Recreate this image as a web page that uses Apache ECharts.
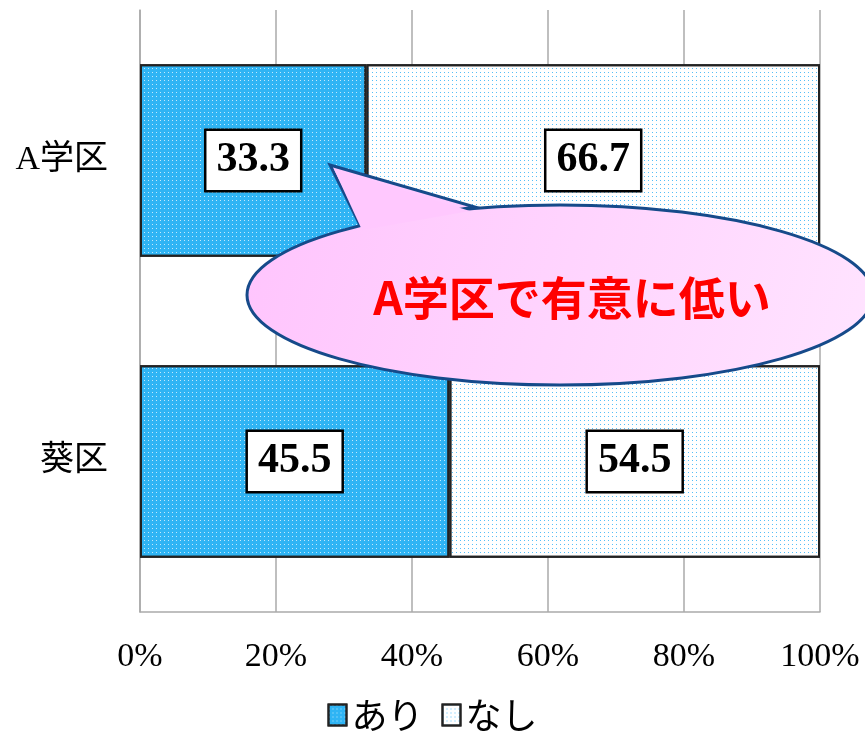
<!DOCTYPE html>
<html>
<head>
<meta charset="utf-8">
<script src="https://cdn.jsdelivr.net/npm/echarts@6/dist/echarts.min.js"></script>
<style>
  html, body { margin: 0; padding: 0; background: #fff; }
  #main { width: 865px; height: 738px; }
</style>
</head>
<body>
<div id="main"></div>
<script>
// categories top to bottom
const categories = ['A学区', '葵区'];
const ariValues = [33.3, 45.5];
const nashiValues = [66.7, 54.5];
const xTicks = ['0%', '20%', '40%', '60%', '80%', '100%'];
const calloutText = 'A学区で有意に低い';

const serif = "'Liberation Serif', 'Noto Sans CJK JP', serif";

const chart = echarts.init(document.getElementById('main'));

const boxLabel = {
  show: true,
  position: 'inside',
  formatter: p => p.value.toFixed(1),
  fontFamily: serif,
  fontSize: 42,
  fontWeight: 'bold',
  color: '#000',
  backgroundColor: '#fff',
  borderColor: '#000',
  borderWidth: 2.5,
  padding: [10, 10, 7, 10]
};

const option = {
  animation: false,
  grid: { left: 140, right: 45, top: 10, bottom: 126 },
  xAxis: {
    type: 'value',
    min: 0,
    max: 100,
    interval: 20,
    axisLine: { show: true, lineStyle: { color: '#aaa', width: 1.5 } },
    axisTick: { show: false },
    splitLine: { show: true, lineStyle: { color: '#aaa', width: 1.5 } },
    axisLabel: {
      formatter: v => xTicks[v / 20],
      fontFamily: serif,
      fontSize: 34,
      color: '#000',
      margin: 28
    }
  },
  yAxis: {
    type: 'category',
    inverse: true,
    data: categories,
    axisLine: { show: true, lineStyle: { color: '#aaa', width: 1.5 } },
    axisTick: { show: false },
    axisLabel: {
      fontFamily: serif,
      fontSize: 34,
      color: '#000',
      margin: 32
    }
  },
  legend: {
    bottom: 0,
    left: 'center',
    icon: 'rect',
    itemWidth: 18,
    itemHeight: 21,
    itemGap: 18,
    textStyle: { fontFamily: "'Noto Sans CJK JP', sans-serif", fontSize: 36, color: '#000' },
    data: ['あり', 'なし']
  },
  series: [
    {
      name: 'あり',
      type: 'bar',
      stack: 'total',
      barCategoryGap: '36%',
      data: ariValues,
      itemStyle: {
        color: '#2fb4f4',
        borderColor: '#222',
        borderWidth: 2,
        decal: {
          symbol: 'rect',
          color: 'rgba(255,255,255,0.7)',
          dashArrayX: [1, 3],
          dashArrayY: [1, 3],
          symbolSize: 1,
          rotation: 0
        }
      },
      label: boxLabel
    },
    {
      name: 'なし',
      type: 'bar',
      stack: 'total',
      data: nashiValues,
      itemStyle: {
        color: '#ffffff',
        borderColor: '#222',
        borderWidth: 2,
        decal: {
          symbol: 'rect',
          color: 'rgba(30,170,245,0.75)',
          dashArrayX: [1, 3],
          dashArrayY: [1, 3],
          symbolSize: 1,
          rotation: 0
        }
      },
      label: boxLabel
    }
  ],
  graphic: [
    {
      type: 'polygon',
      z: 100,
      shape: { points: [[330, 165], [475, 207], [360, 225]] },
      style: { fill: '#ffcaff', stroke: '#164a8a', lineWidth: 3 }
    },
    {
      type: 'ellipse',
      z: 101,
      shape: { cx: 560, cy: 295, rx: 313, ry: 90 },
      style: {
        fill: new echarts.graphic.LinearGradient(0, 0, 1, 1, [
          { offset: 0, color: '#ffc4fd' },
          { offset: 1, color: '#ffe4ff' }
        ]),
        stroke: '#164a8a',
        lineWidth: 3
      }
    },
    {
      type: 'polygon',
      z: 102,
      shape: { points: [[334, 169], [470, 211], [362, 230]] },
      style: { fill: '#ffc8fe', stroke: null }
    },
    {
      type: 'text',
      z: 103,
      style: {
        x: 572,
        y: 298,
        text: calloutText,
        align: 'center',
        verticalAlign: 'middle',
        fontFamily: "'Noto Sans CJK JP', sans-serif",
        fontSize: 46,
        fontWeight: 'bold',
        fill: '#ff0000'
      }
    }
  ]
};

chart.setOption(option);
</script>
</body>
</html>
